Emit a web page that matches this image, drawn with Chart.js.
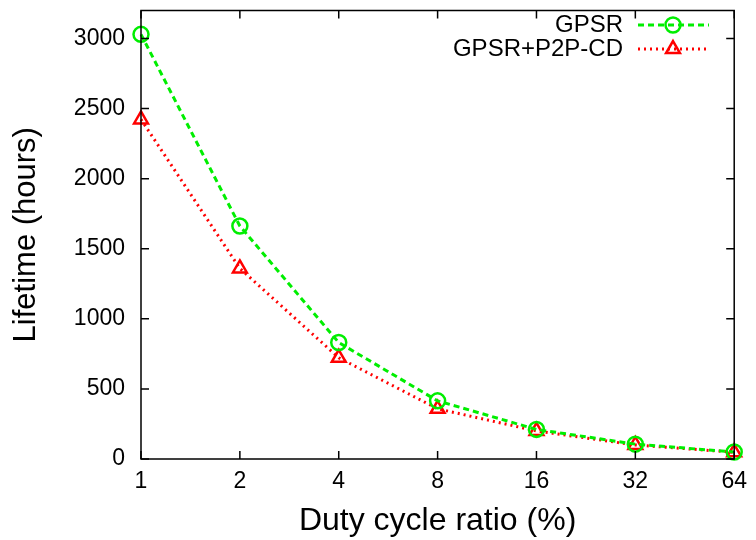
<!DOCTYPE html>
<html>
<head>
<meta charset="utf-8">
<script src="https://cdn.jsdelivr.net/npm/chart.js@4"></script>
<style>
  html, body { margin: 0; padding: 0; background: #fff; }
  #wrap { width: 756px; height: 540px; }
</style>
</head>
<body>
<div id="wrap"><canvas id="chart1"></canvas></div>
<script>
// data
const dutyCycles = ['1', '2', '4', '8', '16', '32', '64'];
const gpsr = [3030, 1662, 831, 415, 211, 106, 50];
const gpsrP2P = [2423, 1360, 722, 358, 200, 100, 48];
const yTicks = [0, 500, 1000, 1500, 2000, 2500, 3000];

const FONT = '"Liberation Sans", Arial, sans-serif';

// gnuplot-ish inward ticks on all four sides + the legend top right
const framePlugin = {
    id: 'frame',
    afterDraw(chart) {
        const ctx = chart.ctx;
        const a = chart.chartArea;
        const xs = chart.scales.x;
        const ys = chart.scales.y;
        ctx.save();
        ctx.strokeStyle = '#000';
        ctx.lineWidth = 1.5;
        ctx.strokeRect(a.left, a.top, a.right - a.left, a.bottom - a.top);
        ctx.beginPath();
        dutyCycles.forEach((c, i) => {
            const x = xs.getPixelForValue(i);
            ctx.moveTo(x, a.bottom); ctx.lineTo(x, a.bottom - 8);
            ctx.moveTo(x, a.top); ctx.lineTo(x, a.top + 8);
        });
        yTicks.forEach(v => {
            const y = ys.getPixelForValue(v);
            ctx.moveTo(a.left, y); ctx.lineTo(a.left + 8, y);
            ctx.moveTo(a.right, y); ctx.lineTo(a.right - 8, y);
        });
        ctx.stroke();

        // legend
        const rows = [
            { label: 'GPSR', ds: chart.data.datasets[0], y: 25 },
            { label: 'GPSR+P2P-CD', ds: chart.data.datasets[1], y: 49 }
        ];
        ctx.font = '24px ' + FONT;
        ctx.textAlign = 'right';
        ctx.textBaseline = 'middle';
        rows.forEach(r => {
            ctx.fillStyle = '#000';
            ctx.fillText(r.label, 623, r.y);
            ctx.strokeStyle = r.ds.borderColor;
            ctx.lineWidth = r.ds.borderWidth;
            ctx.setLineDash(r.ds.borderDash);
            ctx.beginPath();
            ctx.moveTo(638, r.y); ctx.lineTo(709, r.y);
            ctx.stroke();
            ctx.setLineDash([]);
            ctx.lineWidth = r.ds.pointBorderWidth;
            ctx.strokeStyle = r.ds.pointBorderColor;
            ctx.fillStyle = 'rgba(0,0,0,0)';
            Chart.helpers.drawPoint(ctx, {
                pointStyle: r.ds.pointStyle,
                radius: r.ds.pointRadius,
                rotation: 0,
                borderWidth: r.ds.pointBorderWidth
            }, 673, r.y);
        });
        ctx.restore();
    }
};

const ctx = document.getElementById('chart1').getContext('2d');
const lifetimeChart = new Chart(ctx, {
    type: 'line',
    data: {
        labels: dutyCycles,
        datasets: [{
            label: 'GPSR',
            data: gpsr,
            borderColor: '#00ee00',
            borderWidth: 3,
            borderDash: [6, 4],
            pointStyle: 'circle',
            pointRadius: 7.5,
            pointBorderWidth: 2.5,
            pointBorderColor: '#00ee00',
            pointBackgroundColor: 'rgba(0,0,0,0)',
            fill: false,
            tension: 0
        }, {
            label: 'GPSR+P2P-CD',
            data: gpsrP2P,
            borderColor: '#ff0000',
            borderWidth: 3,
            borderDash: [2, 4],
            pointStyle: 'triangle',
            pointRadius: 8,
            pointBorderWidth: 2.5,
            pointBorderColor: '#ff0000',
            pointBackgroundColor: 'rgba(0,0,0,0)',
            fill: false,
            tension: 0
        }]
    },
    options: {
        responsive: true,
        maintainAspectRatio: false,
        animation: false,
        clip: false,
        layout: { padding: { top: 2, right: 15, left: 0, bottom: 0 } },
        scales: {
            x: {
                type: 'category',
                offset: false,
                grid: { display: false, drawTicks: false },
                border: { display: false },
                ticks: { color: '#000', font: { family: FONT, size: 23 }, padding: 9, maxRotation: 0 },
                title: { display: true, text: 'Duty cycle ratio (%)', color: '#000', font: { family: FONT, size: 32 }, padding: { top: 6, bottom: 0 } },
                afterFit: s => { s.height = 81; }
            },
            y: {
                min: 0,
                max: 3200,
                afterBuildTicks: s => { s.ticks = yTicks.map(v => ({ value: v })); },
                grid: { display: false, drawTicks: false },
                border: { display: false },
                ticks: { color: '#000', font: { family: FONT, size: 23 }, padding: 16, callback: v => String(v) },
                title: { display: true, text: 'Lifetime (hours)', color: '#000', font: { family: FONT, size: 31 }, padding: { top: 8, bottom: 6 } },
                afterFit: s => { s.width = 141; s.paddingTop = 0; s.paddingBottom = 0; }
            }
        },
        plugins: {
            legend: { display: false },
            tooltip: { enabled: false }
        }
    },
    plugins: [framePlugin]
});
</script>
</body>
</html>
